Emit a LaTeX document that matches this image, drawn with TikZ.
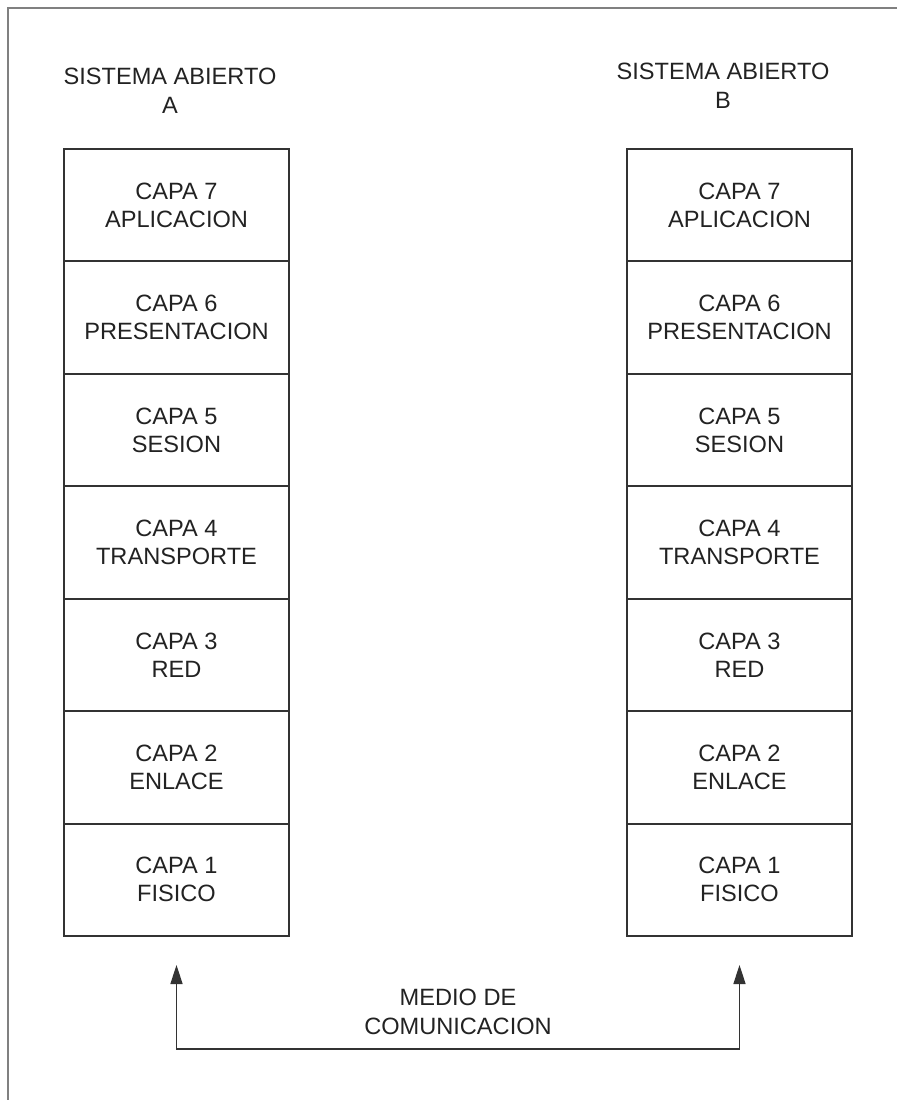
\documentclass[tikz,border=0pt]{standalone}
\usepackage{fontspec}
\setmainfont{Liberation Sans}
\usetikzlibrary{arrows.meta, positioning}
\definecolor{marco}{HTML}{808080}
\definecolor{linea}{HTML}{333333}
\definecolor{texto}{HTML}{222222}
\tikzset{%
   capa/.style={
      rectangle,
      draw=linea,
      line width=1pt,
      minimum width=112.5pt,
      minimum height=56.2pt,
      align=center,
      text=texto,
      font=\fontsize{11.8}{14}\selectfont,
      inner sep=0pt,
      outer sep=0pt
   },
   titulo/.style={
      align=center,
      text=texto,
      font=\fontsize{11.8}{14.5}\selectfont,
      inner sep=0pt
   },
   medio/.style={
      draw=linea,
      line width=0.8pt,
      {Triangle[length=9.5pt,width=6pt]}-{Triangle[length=9.5pt,width=6pt]}
   },
}

\begin{document}
\begin{tikzpicture}[x=0.5pt, y=-0.5pt]
   \useasboundingbox (0,0) rectangle (897,1100);
   % marco exterior
   \draw[marco, line width=1pt] (8,1100) -- (8,8) -- (897,8);
   \node[titulo] (tA) at (170,90.5) {SISTEMA ABIERTO\\A};
   \node[titulo] (tB) at (723,85.5) {SISTEMA ABIERTO\\B};
   \foreach \n/\nombre in {7/APLICACION, 6/PRESENTACION, 5/SESION,
                           4/TRANSPORTE, 3/RED, 2/ENLACE, 1/FISICO}{
      \node[capa] (A\n) at (176.5,{149+(7.5-\n)*112.43}) {CAPA \n\\\nombre};
      \node[capa] (B\n) at (739.5,{149+(7.5-\n)*112.43}) {CAPA \n\\\nombre};
   }
   \coordinate (fA) at ([yshift=-14.5pt]A1.south);
   \coordinate (fB) at ([yshift=-14.5pt]B1.south);
   \draw[medio] (fA) -- ++(0,-42pt) -| (fB);
   \node[titulo] (med) at (458,1011.5) {MEDIO DE\\COMUNICACION};
\end{tikzpicture}
\end{document}
